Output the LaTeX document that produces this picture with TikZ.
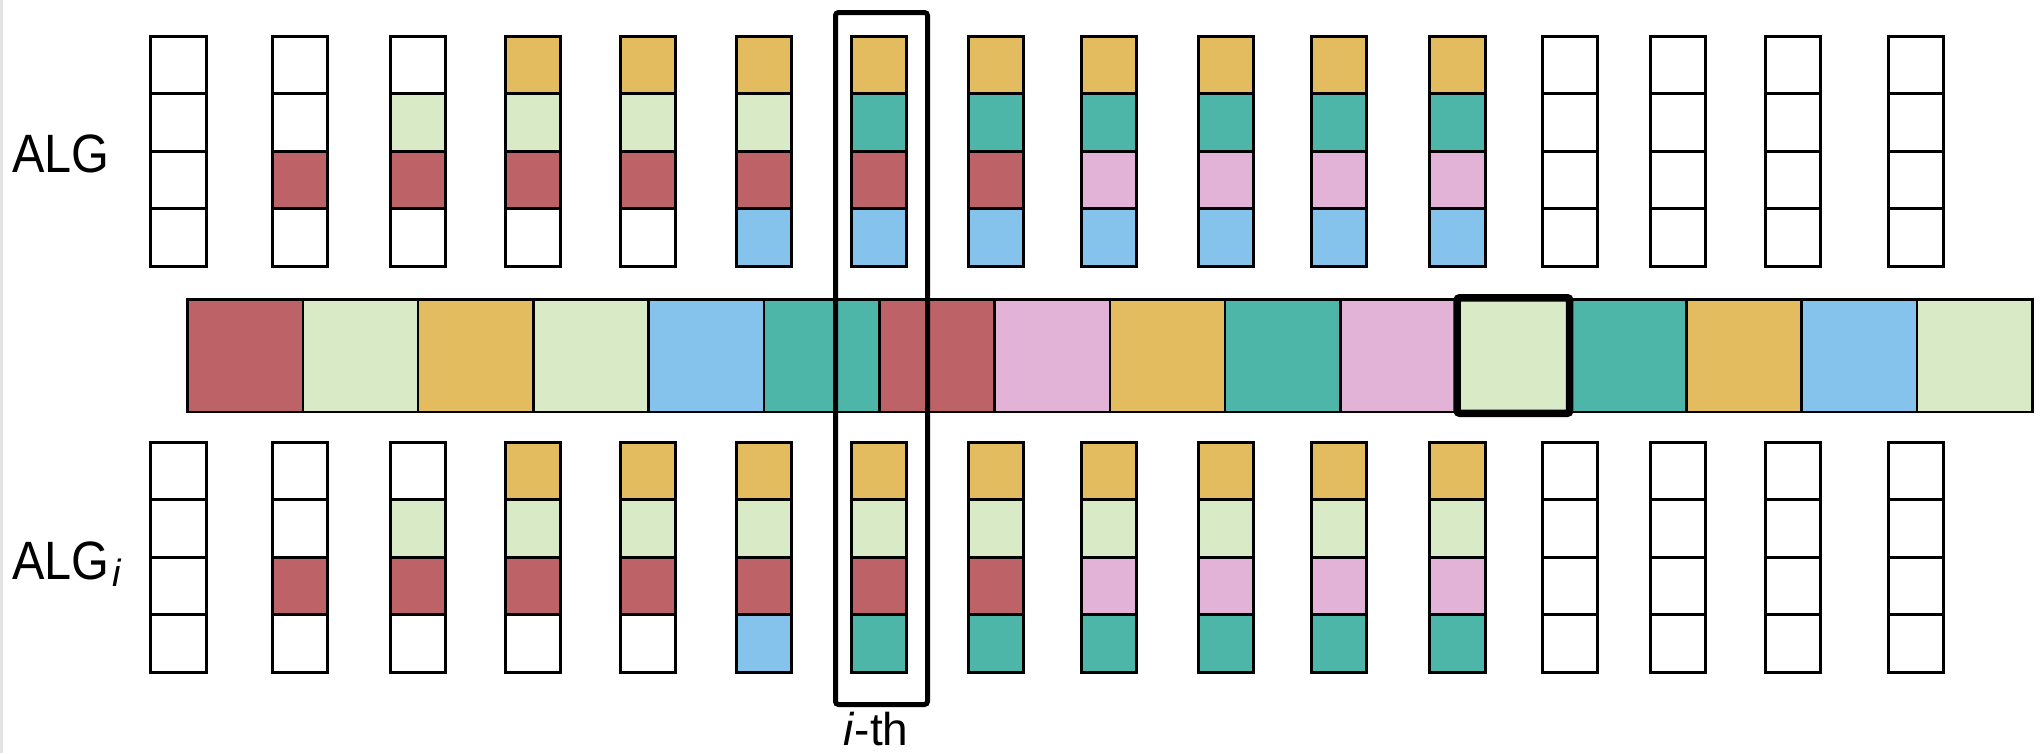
\documentclass[tikz,border=0pt]{standalone}
\usepackage{fontspec}
\setmainfont{Liberation Sans}
\definecolor{cR}{HTML}{BD6267}
\definecolor{cG}{HTML}{D9EBC6}
\definecolor{cY}{HTML}{E4BC60}
\definecolor{cB}{HTML}{85C3EC}
\definecolor{cT}{HTML}{4DB6A8}
\definecolor{cP}{HTML}{E2B3D6}
\definecolor{cW}{HTML}{FFFFFF}
\begin{document}
\begin{tikzpicture}[x=1pt,y=-1pt,
  cell/.style={draw, line width=3pt, minimum width=55.5pt, minimum height=57.5pt, inner sep=0pt, outer sep=0pt},
  seg/.style={draw, line width=2.5pt, minimum width=115.3pt, minimum height=112.5pt, inner sep=0pt, outer sep=0pt},
  lbl/.style={anchor=base west, inner sep=0pt}]
\useasboundingbox (0,0) rectangle (2040,753);
\draw[gray!22, line width=3pt] (1.5,0) -- (1.5,753);
% bar segments
\foreach \col [count=\k] in {cR,cG,cY,cG,cB,cT,cR,cP,cY,cT,cP,cG,cT,cY,cB,cG}
  \node[seg, fill=\col] (s\k) at ({187.5+115.3*(\k-0.5)}, 355.5) {};
% top columns (ALG)
\foreach \x/\a/\b/\cc/\d [count=\c] in {
  178.5/cW/cW/cW/cW, 300/cW/cW/cR/cW, 418/cW/cG/cR/cW, 533/cY/cG/cR/cW,
  648/cY/cG/cR/cW, 764/cY/cG/cR/cB, 879/cY/cT/cR/cB, 996/cY/cT/cR/cB,
  1109/cY/cT/cP/cB, 1226/cY/cT/cP/cB, 1339/cY/cT/cP/cB, 1457.5/cY/cT/cP/cB,
  1570/cW/cW/cW/cW, 1678/cW/cW/cW/cW, 1793/cW/cW/cW/cW, 1916/cW/cW/cW/cW}{
  \foreach \col [count=\r] in {\a,\b,\cc,\d}
    \node[cell, fill=\col] (t\c-\r) at (\x, {65+57.5*(\r-1)}) {};
}
% bottom columns (ALG_i)
\foreach \x/\a/\b/\cc/\d [count=\c] in {
  178.5/cW/cW/cW/cW, 300/cW/cW/cR/cW, 418/cW/cG/cR/cW, 533/cY/cG/cR/cW,
  648/cY/cG/cR/cW, 764/cY/cG/cR/cB, 879/cY/cG/cR/cT, 996/cY/cG/cR/cT,
  1109/cY/cG/cP/cT, 1226/cY/cG/cP/cT, 1339/cY/cG/cP/cT, 1457.5/cY/cG/cP/cT,
  1570/cW/cW/cW/cW, 1678/cW/cW/cW/cW, 1793/cW/cW/cW/cW, 1916/cW/cW/cW/cW}{
  \foreach \col [count=\r] in {\a,\b,\cc,\d}
    \node[cell, fill=\col] (b\c-\r) at (\x, {471+57.5*(\r-1)}) {};
}
% i-th box
\node[draw, line width=5pt, rounded corners=3pt, minimum width=92pt, minimum height=692pt, inner sep=0pt] (ith) at (881.5,358.5) {};
\node (ithl) at (876,729) {\fontsize{46}{46}\selectfont\textit{i}-th};
% selected segment
\node[draw, line width=7.5pt, rounded corners=2.5pt, minimum width=112.5pt, minimum height=115.5pt, inner sep=0pt] (sel) at (s12) {};
% labels
\node[lbl] (algtop) at (12,172) {\fontsize{54}{54}\selectfont\scalebox{0.9}[1]{ALG}};
\node[lbl] (algi) at (12,579) {\fontsize{54}{54}\selectfont\scalebox{0.9}[1]{ALG}\hspace{3pt}\raisebox{-7pt}{\fontsize{38}{38}\selectfont\itshape i}};
\end{tikzpicture}
\end{document}
